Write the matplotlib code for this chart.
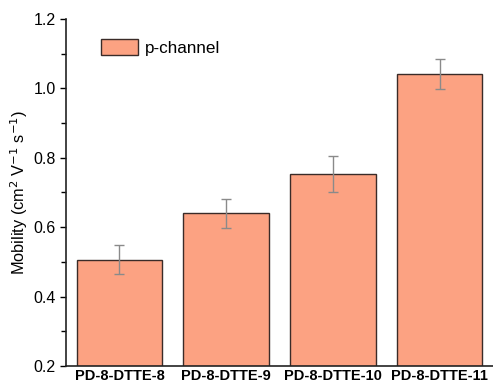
import numpy as np
import matplotlib
matplotlib.use("Agg")
import matplotlib.pyplot as plt
from matplotlib.ticker import MultipleLocator

# data
samples = ["PD-8-DTTE-8", "PD-8-DTTE-9", "PD-8-DTTE-10", "PD-8-DTTE-11"]
mobility = [0.507, 0.640, 0.753, 1.041]
mobility_err = [0.041, 0.041, 0.052, 0.042]

plt.rcParams['font.family'] = ['Liberation Sans', 'DejaVu Sans']

fig = plt.figure(figsize=(4.93, 3.85), dpi=100)
ax = fig.add_axes([0.134, 0.049, 0.866, 0.902])

x = np.arange(len(samples))
ax.bar(x, mobility, width=0.8, bottom=0, color='#FCA282', edgecolor='#3a2b28',
       linewidth=1.0, label='p-channel', zorder=2)
ax.errorbar(x, mobility, yerr=mobility_err, fmt='none', ecolor='#8a8a8a',
            elinewidth=1.0, capsize=3.5, capthick=1.0, zorder=3)

ax.set_xlim(-0.5, 3.5)
ax.set_ylim(0.2, 1.2)
ax.yaxis.set_minor_locator(MultipleLocator(0.1))
ax.set_yticks([0.2, 0.4, 0.6, 0.8, 1.0, 1.2])
ax.set_yticklabels(["0.2", "0.4", "0.6", "0.8", "1.0", "1.2"])
ax.set_xticks(x)
ax.set_xticklabels(samples, fontweight='bold', fontsize=10.5)
ax.tick_params(axis='x', length=0, pad=2)
ax.tick_params(axis='y', which='major', length=4.5, width=1, labelsize=11.5, pad=3)
ax.tick_params(axis='y', which='minor', length=3.5, width=1)

for s in ['top', 'right']:
    ax.spines[s].set_visible(False)
for s in ['left', 'bottom']:
    ax.spines[s].set_linewidth(1.2)
    ax.spines[s].set_color('#222222')

ax.set_ylabel("Mobility (cm$^2$ V$^{-1}$ s$^{-1}$)", fontsize=11.8, labelpad=2)

ax.legend(loc='upper left', bbox_to_anchor=(0.045, 0.985), frameon=False,
          fontsize=12.3, handlelength=2.2, handleheight=1.05, handletextpad=0.4)

fig.savefig("out.png", dpi=100)
